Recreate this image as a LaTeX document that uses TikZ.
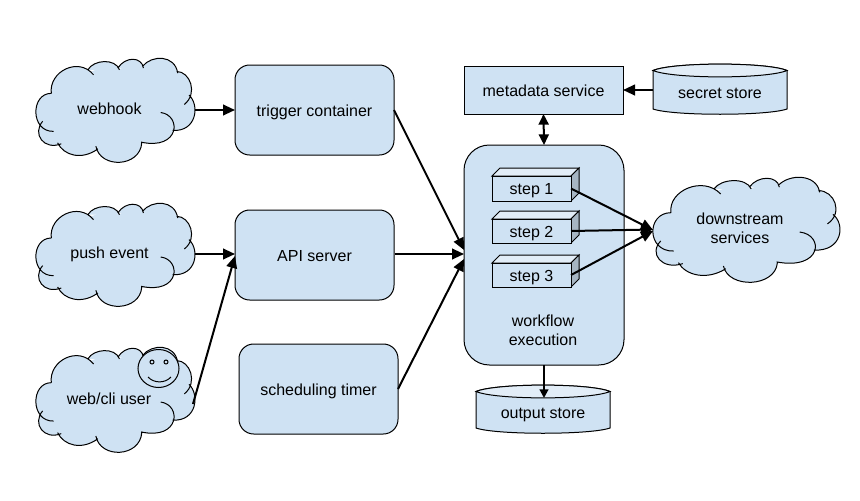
\documentclass[tikz,border=0pt]{standalone}
\usepackage{fontspec}
\setmainfont{Liberation Sans}
\usetikzlibrary{arrows.meta,calc}
\definecolor{blu}{HTML}{CFE2F3}
\definecolor{blutop}{HTML}{E2EDF7}
\definecolor{bluside}{HTML}{A6B5C2}
\def\cloudpath{
 (78,115) .. controls (70,50) and (160,5) .. (205,60)
 (188,45) .. controls (205,15) and (270,10) .. (283,45)
 (278,40) .. controls (300,5) and (350,5) .. (355,40)
 (352,35) .. controls (380,0) and (450,0) .. (458,55)
 (455,50) .. controls (495,50) and (520,115) .. (478,148)
 (492,120) .. controls (525,150) and (515,230) .. (443,225)
 (407,172) .. controls (470,180) and (465,285) .. (348,260)
 (350,262) .. controls (345,335) and (225,340) .. (212,272)
 (218,280) .. controls (170,315) and (115,300) .. (97,262)
 (108,265) .. controls (55,285) and (20,235) .. (52,198)
 (85,228) .. controls (15,230) and (15,115) .. (78,115)
}
% \cloudnode{name}{left}{top}{right}{bottom}{text x}{text y}{text}
\newcommand{\cloudnode}[8]{%
 \pgfmathsetmacro{\sx}{(#4-#2)/478*0.75}%
 \pgfmathsetmacro{\sy}{(#5-#3)/312*0.75}%
 \begin{scope}[shift={(#2,#3)},x=\sx pt,y=-\sy pt,shift={(-32,-10)}]
  \fill[blu] (78,115)--(125,55)--(195,52)--(235,35)--(280,45)--(315,28)--(353,38)--(405,22)--(456,53)--(490,100)--(480,145)--(495,180)--(445,222)--(410,250)--(348,265)--(280,312)--(214,278)--(160,292)--(100,265)--(60,250)--(52,200)--(45,165)--cycle;
  \fill[blu] \cloudpath;
  \draw[edge0] \cloudpath;
 \end{scope}
 \node[txt,align=center] (#1) at (#6,#7) {#8};
}
% \storenode{name}{left}{top}{right}{bottom}{text}
\newcommand{\storenode}[6]{%
 \path[fill=blu,edge0] (#2,#3+6.5) -- (#2,#5-6) .. controls (#2+20,#5+1) and (#4-20,#5+1) .. (#4,#5-6) -- (#4,#3+6.5) .. controls (#4-20,#3-2) and (#2+20,#3-2) .. (#2,#3+6.5) -- cycle;
 \path[fill=blutop,edge0] (#2,#3+6.5) .. controls (#2+20,#3-2) and (#4-20,#3-2) .. (#4,#3+6.5) .. controls (#4-20,#3+15) and (#2+20,#3+15) .. (#2,#3+6.5) -- cycle;
 \path (#2,#3+13) -- (#4,#3+13) coordinate[pos=0] (#1-l);
 \node[txt,onetext,minimum width={(#4-#2)*0.75pt}] (#1) at ({(#2+#4)/2},{(#3+13+#5)/2-3.4}) {#6};
}
% \stepnode{name}{left}{top of front}{bottom of front}{text}
\newcommand{\stepnode}[5]{%
 \path[fill=blutop,edge0] (#2,#3) -- (#2+8,#3-8) -- (579,#3-8) -- (571,#3) -- cycle;
 \path[fill=bluside,edge0] (571,#3) -- (579,#3-8) -- (579,#4-8) -- (571,#4) -- cycle;
 \node[txt,onetext,draw=black,fill=blu,line width=0.75pt,minimum width=59.25pt,minimum height={(#4-#3)*0.75pt}] (#1) at ({(#2+571)/2},{(#3+#4)/2}) {#5};
}
\tikzset{
 edge0/.style={draw=black,line width=0.75pt},
 txt/.style={inner sep=0pt,outer sep=0pt,font=\fontsize{12}{14.25}\selectfont,text=black},
 onetext/.style={text height=9pt,text depth=0pt},
 rbox/.style={txt,draw=black,fill=blu,line width=0.75pt,rounded corners=11pt,minimum width=119.25pt,minimum height=67.5pt},
 sbox/.style={txt,draw=black,fill=blu,line width=0.75pt,minimum width=119.25pt,minimum height=36pt},
 conn/.style={line width=1.5pt,draw=black,-{Triangle[length=9pt,width=8pt]}},
 conn2/.style={line width=1.5pt,draw=black,{Triangle[length=8pt,width=7.5pt]}-{Triangle[length=8pt,width=7.5pt]}},
 conns/.style={line width=1.5pt,draw=black,-{Triangle[length=6.5pt,width=6.5pt]}},
}
\begin{document}
\begin{tikzpicture}[x=0.75pt,y=-0.75pt]
\useasboundingbox (0,0) rectangle (860,500);
\fill[white] (0,0) rectangle (860,500);
\cloudnode{webhook}{36}{58}{195}{163}{109.5}{109}{webhook}
\cloudnode{push}{36}{203}{195}{307}{109.5}{254}{push event}
\cloudnode{user}{36}{347}{195}{453}{109}{399}{web/cli user}
\cloudnode{down}{653}{177}{840}{283}{740}{228.5}{downstream\\services}
\path[fill=blu,edge0] (158.5,368.5) ellipse [x radius=20.5,y radius=19];
\coordinate (eyeL) at (152,362); \coordinate (eyeR) at (166,362);
\path[edge0] (eyeL) circle [radius=2];
\path[edge0] (eyeR) circle [radius=2];
\path[edge0] (148,377) .. controls (154,383.5) and (165,383.5) .. (171,377);

\node[rbox,onetext] (trigger) at (314.5,110) {trigger container};
\node[rbox,onetext] (api) at (314.5,255) {API server};
\node[rbox,onetext] (sched) at (318.5,389) {scheduling timer};
\node[sbox,onetext] (meta) at (543.5,90) {metadata service};
\node[rbox,minimum height=165pt,minimum width=120pt,rounded corners=19pt] (wf) at (544,255) {};
\node[txt,align=center] (wftext) at (543,330.5) {workflow\\execution};
\storenode{secret}{653}{64}{787}{115}{secret store}
\storenode{output}{476}{385}{610}{434}{output store}
\stepnode{s1}{492}{176}{201}{step 1}
\stepnode{s2}{492}{219}{243}{step 2}
\stepnode{s3}{492}{263}{287}{step 3}

\coordinate (webE) at (195,110);
\coordinate (pushE) at (195,254);
\coordinate (userE) at (193,404);
\coordinate (apiW1) at (235,254);
\coordinate (apiW2) at (235,256);
\coordinate (wfA) at (464,250);
\coordinate (wfB) at (464,254);
\coordinate (wfC) at (464,259);
\coordinate (downA) at (653,230);
\coordinate (downB) at (653,229.5);
\coordinate (downC) at (653,231);
\coordinate (apiE) at (394.5,254);
\coordinate (secW) at (653,90);

\draw[conn] (webE) -- (trigger.west);
\draw[conn] (pushE) -- (apiW1);
\draw[conn] (userE) -- (apiW2);
\draw[conn] (trigger.east) -- (wfA);
\draw[conn] (apiE) -- (wfB);
\draw[conn] (sched.east) -- (wfC);
\draw[conn2] (meta.south) -- (wf.north);
\draw[conn] (secW) -- (meta.east);
\draw[conns] (wf.south) -- (output-l -| wf.south);
\draw[conn] (s1.east) -- (downA);
\draw[conn] (s2.east) -- (downB);
\draw[conn] (s3.east) -- (downC);
\end{tikzpicture}
\end{document}
